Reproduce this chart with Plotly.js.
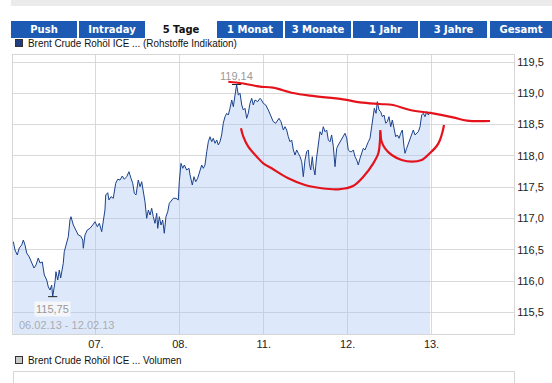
<!DOCTYPE html>
<html>
<head>
<meta charset="utf-8">
<script src="https://cdn.plot.ly/plotly-3.0.1.min.js"></script>
<style>
  html, body { margin:0; padding:0; background:#fff; }
  #wrap { position:relative; width:552px; height:383px; overflow:hidden; }
  #chart { position:absolute; left:0; top:0; width:552px; height:383px; }
  .band { position:absolute; left:11px; top:0; width:541px; height:6px; background:#ebebeb; }
  .tab { position:absolute; top:21px; height:17px; line-height:17px; text-align:center;
         font-family:"DejaVu Sans", Verdana, sans-serif; font-weight:bold; font-size:10px;
         color:#fff; background:#1d5ab3; }
  .tab.active { background:#fff; color:#111; }
  .leg { position:absolute; left:15px; font-family:"Liberation Sans", Arial, sans-serif; font-size:11px; color:#111; white-space:nowrap; }
  .sq { display:inline-block; width:6px; height:6px; border:1px solid #333; margin-right:5px; vertical-align:0px; }
  .lt { display:inline-block; transform:scaleX(0.9); transform-origin:left center; }
  .panel { position:absolute; left:13px; top:371px; width:500px; height:20px; border:1px solid #d6d6d6; }
</style>
</head>
<body>
<div id="wrap">
  <div id="chart"></div>
  <div class="band"></div>
  <div id="tabs"></div>
  <div class="leg" style="top:37px;"><span class="sq" style="background:#1f3f80;"></span><span class="lt" id="leg1"></span></div>
  <div class="leg" style="top:354px;"><span class="sq" style="background:#c9c9c9;"></span><span class="lt" id="leg2"></span></div>
  <div class="panel"></div>
</div>
<script>
// ---- text ----
const tabLabels = ["Push", "Intraday", "5 Tage", "1 Monat", "3 Monate", "1 Jahr", "3 Jahre", "Gesamt"];
const activeTab = "5 Tage";
const seriesName = "Brent Crude Rohöl ICE ... (Rohstoffe Indikation)";
const volumeName = "Brent Crude Rohöl ICE ... Volumen";
const dateRangeText = "06.02.13 - 12.02.13";

// ---- axis ----
const dayTickPos = [1, 2, 3, 4, 5];
const dayTickLabels = ["07.", "08.", "11.", "12.", "13."];
const priceTicks = [115.5, 116.0, 116.5, 117.0, 117.5, 118.0, 118.5, 119.0, 119.5];

// ---- price series (trading-day position, price) ----
const dayPos = [0.016,0.036,0.063,0.087,0.116,0.135,0.155,0.175,0.206,0.235,0.262,0.286,0.313,0.334,0.361,0.385,0.414,0.433,0.453,0.473,0.485,0.513,0.524,0.545,0.564,0.580,0.592,0.611,0.623,0.652,0.671,0.691,0.703,0.731,0.759,0.790,0.819,0.843,0.850,0.870,0.897,0.930,0.962,0.989,1.017,1.029,1.041,1.069,1.088,1.108,1.117,1.141,1.156,1.180,1.207,1.236,1.260,1.287,1.315,1.338,1.367,1.394,1.418,1.439,1.458,1.478,1.505,1.526,1.546,1.565,1.585,1.605,1.625,1.645,1.665,1.684,1.704,1.725,1.737,1.756,1.776,1.796,1.815,1.835,1.856,1.875,1.903,1.923,1.955,1.982,1.994,2.014,2.035,2.054,2.082,2.110,2.122,2.149,2.169,2.190,2.213,2.241,2.261,2.280,2.300,2.321,2.340,2.360,2.380,2.399,2.420,2.440,2.459,2.479,2.499,2.518,2.539,2.559,2.578,2.598,2.619,2.638,2.658,2.677,2.697,2.718,2.738,2.757,2.777,2.797,2.816,2.837,2.857,2.876,2.896,2.928,2.956,2.968,2.995,3.024,3.055,3.087,3.114,3.143,3.167,3.182,3.206,3.234,3.254,3.274,3.293,3.313,3.334,3.353,3.373,3.393,3.412,3.433,3.453,3.472,3.492,3.512,3.532,3.544,3.560,3.579,3.591,3.611,3.627,3.644,3.659,3.671,3.691,3.710,3.731,3.751,3.770,3.790,3.810,3.830,3.850,3.870,3.889,3.909,3.930,3.949,3.969,3.989,4.008,4.029,4.049,4.068,4.088,4.108,4.127,4.148,4.168,4.187,4.207,4.228,4.247,4.267,4.287,4.306,4.318,4.339,4.354,4.374,4.394,4.414,4.434,4.454,4.473,4.493,4.514,4.533,4.553,4.573,4.592,4.613,4.633,4.652,4.672,4.684,4.704,4.723,4.744,4.764,4.783,4.803,4.824,4.843,4.863,4.883,4.902,4.922,4.943,4.962,4.982];
const price = [116.628,116.496,116.416,116.528,116.576,116.655,116.576,116.448,116.384,116.288,116.208,116.256,116.368,116.288,116.304,116.096,116.016,115.904,115.856,115.936,115.750,115.989,116.149,116.016,116.176,116.048,116.149,116.283,116.468,116.603,116.708,116.975,117.028,116.895,116.815,116.735,116.719,116.655,116.523,116.735,116.815,116.842,116.895,116.948,116.868,116.895,116.922,116.788,116.975,117.135,117.375,117.411,117.295,117.348,117.322,117.562,117.626,117.614,117.678,117.626,117.667,117.747,117.642,117.562,117.402,117.375,117.614,117.507,117.587,117.427,117.268,117.002,117.135,117.055,117.162,117.028,116.922,117.082,116.842,117.028,116.895,116.975,116.763,117.028,117.108,117.242,117.295,117.322,117.322,117.295,117.587,117.881,117.801,117.854,117.774,117.801,117.694,117.534,117.667,117.587,117.642,117.747,117.854,117.801,117.854,118.067,118.226,118.306,118.226,118.281,118.201,118.254,118.174,118.226,118.334,118.521,118.626,118.680,118.653,118.760,118.893,118.786,118.946,119.140,118.973,119.000,118.813,118.733,118.760,118.600,118.680,118.840,118.920,118.813,118.893,118.866,118.920,118.904,118.840,118.813,118.733,118.626,118.546,118.521,118.573,118.600,118.546,118.413,118.466,118.413,118.306,118.226,118.254,118.094,118.014,118.094,118.041,117.987,117.907,117.667,117.934,118.067,118.094,117.881,117.774,117.987,117.827,117.694,117.934,118.094,118.226,118.386,118.334,118.466,118.386,118.413,118.254,118.226,118.334,118.147,117.827,118.121,118.174,118.226,118.281,118.306,118.361,118.281,118.094,118.067,118.067,118.094,117.987,117.934,117.854,117.961,118.067,118.121,118.094,118.174,118.226,118.281,118.466,118.706,118.760,118.680,118.866,118.733,118.706,118.626,118.653,118.521,118.546,118.626,118.466,118.573,118.441,118.306,118.334,118.281,118.361,118.413,118.147,118.041,118.121,118.201,118.254,118.361,118.413,118.334,118.361,118.386,118.466,118.653,118.680,118.626,118.706,118.653,118.706];

// ---- hand-drawn red markings (trading-day position, price) ----
const redTopX = [2.578,2.738,2.896,2.956,3.111,3.349,3.552,3.945,4.148,4.386,4.541,4.744,5.018,5.256,5.423,5.697];
const redTopY = [119.185,119.160,119.121,119.106,119.090,119.005,118.962,118.904,118.856,118.829,118.813,118.733,118.680,118.616,118.562,118.557];
const redCupX = [2.729,2.757,2.816,2.917,2.995,3.095,3.293,3.492,3.691,3.889,4.064,4.187,4.306,4.366,4.386,4.390];
const redCupY = [118.441,118.306,118.147,117.987,117.881,117.801,117.642,117.534,117.482,117.466,117.518,117.667,117.881,118.041,118.254,118.413];
const redHandleX = [4.390,4.406,4.446,4.526,4.645,4.764,4.883,4.982,5.062,5.101,5.131,5.149];
const redHandleY = [118.386,118.226,118.121,118.014,117.934,117.907,117.934,118.046,118.158,118.254,118.382,118.493];

// ---- overlays (tabs, legend texts) ----
const tabBoxes = [[11,66],[79,66],[147,68],[217,66],[285,66],[353,65],[420,67],[490,62]];
const tabsDiv = document.getElementById('tabs');
tabLabels.forEach((t, i) => {
  const d = document.createElement('div');
  d.className = 'tab' + (t === activeTab ? ' active' : '');
  d.style.left = tabBoxes[i][0] + 'px';
  d.style.width = tabBoxes[i][1] + 'px';
  d.textContent = t;
  tabsDiv.appendChild(d);
});
document.getElementById('leg1').textContent = seriesName;
document.getElementById('leg2').textContent = volumeName;

// ---- extremes ----
let iMin = 0, iMax = 0;
price.forEach((v, i) => { if (v < price[iMin]) iMin = i; if (v > price[iMax]) iMax = i; });
const fmt = v => v.toFixed(2).replace('.', ',');

const redLine = {color:'#e4131b', width:2.2, shape:'spline', smoothing:1};
const traces = [
  {x: dayPos, y: price, type:'scatter', mode:'lines', fill:'tozeroy',
   fillcolor:'rgba(160,195,240,0.36)', line:{color:'#1c428c', width:1}, hoverinfo:'skip'},
  {x: redTopX, y: redTopY, type:'scatter', mode:'lines', line:redLine, hoverinfo:'skip'},
  {x: redCupX, y: redCupY, type:'scatter', mode:'lines', line:redLine, hoverinfo:'skip'},
  {x: redHandleX, y: redHandleY, type:'scatter', mode:'lines', line:redLine, hoverinfo:'skip'}
];

const tickFont = {family:'"Liberation Sans", Arial, sans-serif', size:11, color:'#222'};
const layout = {
  width:552, height:383,
  margin:{l:13, r:38, t:55, b:49, pad:0},
  paper_bgcolor:'rgba(0,0,0,0)', plot_bgcolor:'#fff',
  separators:',.',
  showlegend:false,
  xaxis:{range:[0.012, 5.983], tickvals:dayTickPos, ticktext:dayTickLabels,
         showgrid:true, gridcolor:'#d9d9d9', gridwidth:1, zeroline:false,
         showline:true, linecolor:'#d6d6d6', mirror:true, ticks:'', tickfont:tickFont, fixedrange:true},
  yaxis:{side:'right', range:[115.153, 119.612], tickvals:priceTicks, tickformat:'.1f',
         showgrid:true, gridcolor:'#d9d9d9', gridwidth:1, zeroline:false,
         showline:true, linecolor:'#d6d6d6', mirror:true, ticks:'', tickfont:tickFont, fixedrange:true},
  shapes:[
    {type:'line', xref:'x', yref:'y', x0:dayPos[iMin]-0.055, x1:dayPos[iMin]+0.055, y0:price[iMin], y1:price[iMin], line:{color:'#222', width:1}},
    {type:'line', xref:'x', yref:'y', x0:dayPos[iMax]-0.055, x1:dayPos[iMax]+0.055, y0:price[iMax], y1:price[iMax], line:{color:'#222', width:1}, layer:'below'}
  ],
  annotations:[
    {x:dayPos[iMax], y:price[iMax], xref:'x', yref:'y', text:fmt(price[iMax]), showarrow:false,
     yshift:9, font:{family:'"Liberation Sans", Arial, sans-serif', size:11, color:'#999'}},
    {x:dayPos[iMin], y:price[iMin], xref:'x', yref:'y', text:fmt(price[iMin]), showarrow:false,
     yshift:-12, bgcolor:'rgba(246,247,250,0.9)', borderpad:1,
     font:{family:'"Liberation Sans", Arial, sans-serif', size:11, color:'#999'}},
    {x:0, y:0, xref:'paper', yref:'paper', xanchor:'left', yanchor:'bottom', xshift:4, yshift:1,
     text:dateRangeText, showarrow:false,
     font:{family:'"Liberation Sans", Arial, sans-serif', size:11, color:'#a9acb3'}}
  ]
};
Plotly.newPlot('chart', traces, layout, {staticPlot:true, displayModeBar:false});
</script>
</body>
</html>
